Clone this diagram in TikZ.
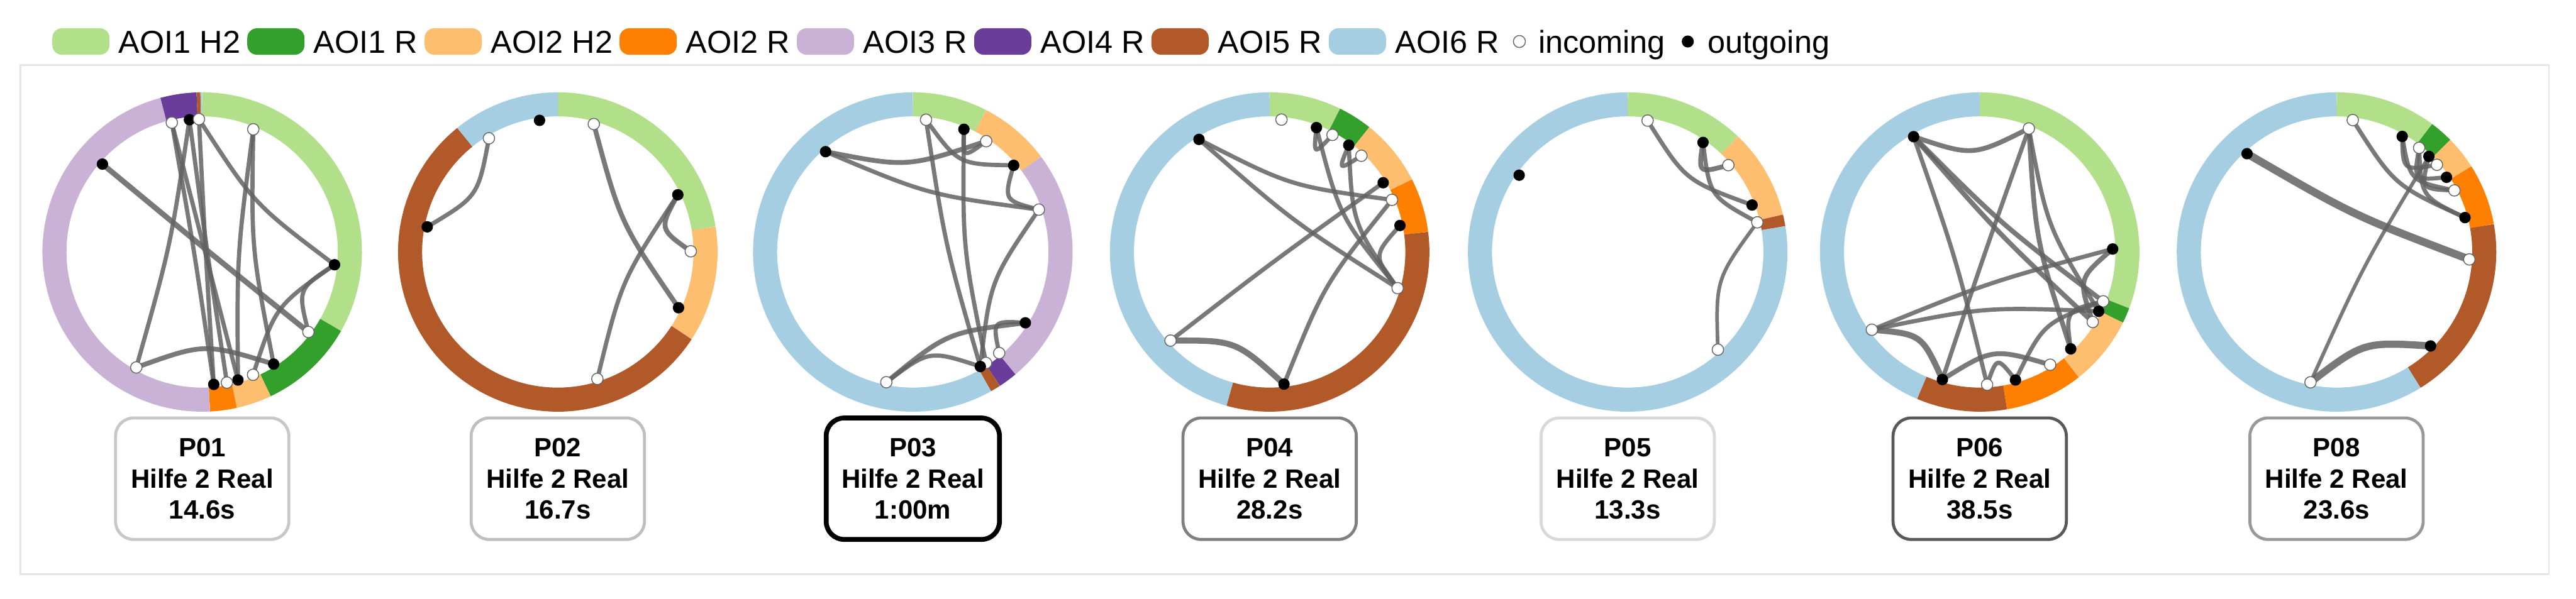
\documentclass[tikz,border=0pt]{standalone}
\usepackage{fontspec}
\setmainfont{Liberation Sans}
\usepackage{tikz}
\usetikzlibrary{positioning,calc,backgrounds}
\definecolor{Aoi1H2}{HTML}{B2DF8A}
\definecolor{Aoi1R}{HTML}{33A02C}
\definecolor{Aoi2H2}{HTML}{FDBF6F}
\definecolor{Aoi2R}{HTML}{FF7F00}
\definecolor{Aoi3R}{HTML}{CAB2D6}
\definecolor{Aoi4R}{HTML}{6A3D9A}
\definecolor{Aoi5R}{HTML}{B15928}
\definecolor{Aoi6R}{HTML}{A6CEE3}
\tikzset{
  ring/.style={line width=0.4cm},
  chord/.style={draw=black!62,draw opacity=0.85},
  indot/.style={circle,draw=black!60,line width=0.015cm,fill=white,inner sep=0pt,minimum size=0.19cm},
  outdot/.style={circle,fill=black,inner sep=0pt,minimum size=0.19cm},
  card/.style={rectangle,rounded corners=0.3cm,draw=#1,line width=0.05cm,fill=white,minimum width=2.88cm,minimum height=2.02cm,align=center,font=\fontsize{12.5}{14.8}\selectfont\bfseries},
  swatch/.style={rectangle,rounded corners=0.16cm,fill=#1,minimum width=0.95cm,minimum height=0.44cm,inner sep=0pt},
  legtext/.style={inner sep=0pt,text height=0.48cm,text depth=0.1cm,font=\fontsize{15}{18}\selectfont},
  frame/.style={draw=black!10,line width=0.03cm},
}
\newcommand{\seg}[3]{\draw[ring,#1] ({90-#2}:2.455) arc[start angle={90-#2},end angle={90-#3},radius=2.455];}

\begin{document}
\begin{tikzpicture}
  \useasboundingbox (0,0) rectangle (42.81,-9.95);
  \draw[frame] (0.34,-1.08) rectangle (42.36,-9.55);

  % legend
  \node[swatch=Aoi1H2] (sw1) at (1.345,-0.69) {};
  \node[legtext, right=0.14cm of sw1] (lt1) {AOI1 H2};
  \node[swatch=Aoi1R, right=0.1cm of lt1] (sw2) {};
  \node[legtext, right=0.14cm of sw2] (lt2) {AOI1 R};
  \node[swatch=Aoi2H2, right=0.1cm of lt2] (sw3) {};
  \node[legtext, right=0.14cm of sw3] (lt3) {AOI2 H2};
  \node[swatch=Aoi2R, right=0.1cm of lt3] (sw4) {};
  \node[legtext, right=0.14cm of sw4] (lt4) {AOI2 R};
  \node[swatch=Aoi3R, right=0.1cm of lt4] (sw5) {};
  \node[legtext, right=0.14cm of sw5] (lt5) {AOI3 R};
  \node[swatch=Aoi4R, right=0.1cm of lt5] (sw6) {};
  \node[legtext, right=0.14cm of sw6] (lt6) {AOI4 R};
  \node[swatch=Aoi5R, right=0.1cm of lt6] (sw7) {};
  \node[legtext, right=0.14cm of sw7] (lt7) {AOI5 R};
  \node[swatch=Aoi6R, right=0.1cm of lt7] (sw8) {};
  \node[legtext, right=0.14cm of sw8] (lt8) {AOI6 R};
  \node[indot, minimum size=0.2cm, right=0.22cm of lt8] (legin) {};
  \node[legtext, right=0.2cm of legin] (ltin) {incoming};
  \node[outdot, minimum size=0.2cm, right=0.26cm of ltin] (legout) {};
  \node[legtext, right=0.22cm of legout] (ltout) {outgoing};

  % P01
  \begin{scope}[shift={(3.36,-4.19)}]
    \coordinate (c1) at (0,0);
    \begin{scope}[on background layer]
      \seg{Aoi1H2}{0}{119.6} \seg{Aoi1R}{119.6}{154.6} \seg{Aoi2H2}{154.6}{167.4}
      \seg{Aoi2R}{167.4}{177.2} \seg{Aoi3R}{177.2}{344.8} \seg{Aoi4R}{344.8}{358}
      \seg{Aoi5R}{358}{359.4} \seg{Aoi6R}{359.4}{360}
    \end{scope}
    \foreach \n/\a/\k in {1/346.8/indot,2/354.5/outdot,3/358.6/indot,4/22.6/indot,5/311.4/outdot,
      6/95.5/outdot,7/127/indot,8/147.5/outdot,9/157.5/indot,10/164.4/outdot,11/169.3/indot,
      12/175/outdot,13/209.7/indot}
      \node[\k] (p1-\n) at ({90-\a}:2.21) {};
    \begin{scope}[on background layer]
      \foreach \s/\t/\w in {5/7/.9,2/13/.7,6/3/.7,6/7/.7,6/9/.7,8/13/.8,10/4/.7,8/4/.7,
        12/1/.7,2/11/.7,12/3/.7,10/1/.7}
        \draw[chord, line width=\w mm] (p1-\s.center) .. controls ($(p1-\s)!.5!(p1-\t)!.2!(c1)$) .. (p1-\t.center);
    \end{scope}
    \node[card=black!22] (b1) at (0,-3.77) {P01\\Hilfe 2 Real\\14.6s};
  \end{scope}

  % P02
  \begin{scope}[shift={(9.27,-4.19)}]
    \coordinate (c2) at (0,0);
    \begin{scope}[on background layer]
      \seg{Aoi1H2}{0}{80.8} \seg{Aoi2H2}{80.8}{123.1} \seg{Aoi5R}{123.1}{321} \seg{Aoi6R}{321}{360}
    \end{scope}
    \foreach \n/\a/\k in {1/352.1/outdot,2/15.7/indot,3/328.8/indot,4/280.9/outdot,
      5/64.5/outdot,6/89.7/indot,7/114.8/outdot,8/162.7/indot}
      \node[\k] (p2-\n) at ({90-\a}:2.21) {};
    \begin{scope}[on background layer]
      \foreach \s/\t/\w in {4/3/.7,7/2/.8,5/8/.7,5/6/.8}
        \draw[chord, line width=\w mm] (p2-\s.center) .. controls ($(p2-\s)!.5!(p2-\t)!.2!(c2)$) .. (p2-\t.center);
    \end{scope}
    \node[card=black!25] (b2) at (0,-3.77) {P02\\Hilfe 2 Real\\16.7s};
  \end{scope}

  % P03
  \begin{scope}[shift={(15.17,-4.19)}]
    \coordinate (c3) at (0,0);
    \begin{scope}[on background layer]
      \seg{Aoi1H2}{0}{27.3} \seg{Aoi2H2}{27.3}{53.3} \seg{Aoi3R}{53.3}{140}
      \seg{Aoi4R}{140}{147} \seg{Aoi5R}{147}{150.7} \seg{Aoi6R}{150.7}{360}
    \end{scope}
    \foreach \n/\a/\k in {1/5.7/indot,2/22.6/outdot,3/33.5/indot,4/49.3/outdot,5/319/outdot,
      6/71.4/indot,7/122.2/outdot,8/139.5/indot,9/146.6/indot,10/149.5/outdot,11/191.5/indot}
      \node[\k] (p3-\n) at ({90-\a}:2.21) {};
    \begin{scope}[on background layer]
      \foreach \s/\t/\w in {5/6/.7,5/3/.8,4/1/.7,2/3/.7,2/9/.7,10/1/.7,4/6/.7,7/11/.8,
        10/11/.7,10/6/.7,7/8/.7}
        \draw[chord, line width=\w mm] (p3-\s.center) .. controls ($(p3-\s)!.5!(p3-\t)!.2!(c3)$) .. (p3-\t.center);
    \end{scope}
    \node[card=black, line width=0.08cm] (b3) at (0,-3.77) {P03\\Hilfe 2 Real\\1:00m};
  \end{scope}

  % P04
  \begin{scope}[shift={(21.10,-4.19)}]
    \coordinate (c4) at (0,0);
    \begin{scope}[on background layer]
      \seg{Aoi1H2}{0}{26.1} \seg{Aoi1R}{26.1}{38.6} \seg{Aoi2H2}{38.6}{62.9}
      \seg{Aoi2R}{62.9}{82.7} \seg{Aoi5R}{82.7}{195.7} \seg{Aoi6R}{195.7}{360}
    \end{scope}
    \foreach \n/\a/\k in {1/5.1/indot,2/20.6/outdot,3/28.2/indot,4/36.5/outdot,5/43.6/indot,
      6/327.9/outdot,7/58.6/outdot,8/66.9/indot,9/78.5/outdot,10/105.8/indot,11/228.2/indot,
      12/173.8/outdot}
      \node[\k] (p4-\n) at ({90-\a}:2.21) {};
    \begin{scope}[on background layer]
      \foreach \s/\t/\w in {6/10/.7,6/8/.7,7/11/.7,12/11/1,12/8/.7,2/10/.7,4/10/.7,
        9/10/.7,4/5/.7,2/3/.7}
        \draw[chord, line width=\w mm] (p4-\s.center) .. controls ($(p4-\s)!.5!(p4-\t)!.2!(c4)$) .. (p4-\t.center);
    \end{scope}
    \node[card=black!50] (b4) at (0,-3.77) {P04\\Hilfe 2 Real\\28.2s};
  \end{scope}

  % P05
  \begin{scope}[shift={(27.05,-4.19)}]
    \coordinate (c5) at (0,0);
    \begin{scope}[on background layer]
      \seg{Aoi1H2}{0}{43.6} \seg{Aoi2H2}{43.6}{76.4} \seg{Aoi5R}{76.4}{80.7} \seg{Aoi6R}{80.7}{360}
    \end{scope}
    \foreach \n/\a/\k in {1/8.6/indot,2/34.5/outdot,3/49.2/indot,4/69.3/outdot,5/77.1/indot,
      6/137.3/indot,7/305.3/outdot}
      \node[\k] (p5-\n) at ({90-\a}:2.21) {};
    \begin{scope}[on background layer]
      \foreach \s/\t/\w in {4/1/.7,2/3/.8,2/5/.7,5/6/.6}
        \draw[chord, line width=\w mm] (p5-\s.center) .. controls ($(p5-\s)!.5!(p5-\t)!.2!(c5)$) .. (p5-\t.center);
    \end{scope}
    \node[card=black!15] (b5) at (0,-3.77) {P05\\Hilfe 2 Real\\13.3s};
  \end{scope}

  % P06
  \begin{scope}[shift={(32.90,-4.19)}]
    \coordinate (c6) at (0,0);
    \begin{scope}[on background layer]
      \seg{Aoi1H2}{0}{110.6} \seg{Aoi1R}{110.6}{116.3} \seg{Aoi2H2}{116.3}{141.7}
      \seg{Aoi2R}{141.7}{170.1} \seg{Aoi5R}{170.1}{203.1} \seg{Aoi6R}{203.1}{360}
    \end{scope}
    \foreach \n/\a/\k in {1/21.7/indot,2/330.2/outdot,3/88.7/outdot,4/111.8/indot,5/116.5/outdot,
      6/121.8/indot,7/136.8/outdot,8/148/indot,9/164.4/outdot,10/176.8/indot,11/196.3/outdot,
      12/234.2/indot}
      \node[\k] (p6-\n) at ({90-\a}:2.21) {};
    \begin{scope}[on background layer]
      \foreach \s/\t/\w in {2/1/.8,2/4/.8,2/6/.8,2/10/.7,11/1/.7,7/1/.8,5/1/.7,3/12/.7,
        5/12/.7,11/12/1,11/8/.8,9/10/.7,9/4/.7,3/6/.8,7/4/.7}
        \draw[chord, line width=\w mm] (p6-\s.center) .. controls ($(p6-\s)!.5!(p6-\t)!.2!(c6)$) .. (p6-\t.center);
    \end{scope}
    \node[card=black!65] (b6) at (0,-3.77) {P06\\Hilfe 2 Real\\38.5s};
  \end{scope}

  % P08
  \begin{scope}[shift={(38.83,-4.19)}]
    \coordinate (c7) at (0,0);
    \begin{scope}[on background layer]
      \seg{Aoi1H2}{0}{36.7} \seg{Aoi1R}{36.7}{45.4} \seg{Aoi2H2}{45.4}{57.5}
      \seg{Aoi2R}{57.5}{79.9} \seg{Aoi5R}{79.9}{148.3} \seg{Aoi6R}{148.3}{360}
    \end{scope}
    \foreach \n/\a/\k in {1/7/indot,2/29.6/outdot,3/38.4/indot,4/44/outdot,5/49/indot,
      6/55.8/outdot,7/62.4/indot,8/75/outdot,9/93.2/indot,10/317.7/outdot,11/135/outdot,
      12/191.3/indot}
      \node[\k] (p7-\n) at ({90-\a}:2.21) {};
    \begin{scope}[on background layer]
      \foreach \s/\t/\w in {10/9/1.3,11/12/1.2,4/12/.6,8/1/.7,2/5/.7,2/7/.7,4/7/.7,6/3/.7,8/3/.7}
        \draw[chord, line width=\w mm] (p7-\s.center) .. controls ($(p7-\s)!.5!(p7-\t)!.2!(c7)$) .. (p7-\t.center);
    \end{scope}
    \node[card=black!40] (b7) at (0,-3.77) {P08\\Hilfe 2 Real\\23.6s};
  \end{scope}
\end{tikzpicture}
\end{document}
